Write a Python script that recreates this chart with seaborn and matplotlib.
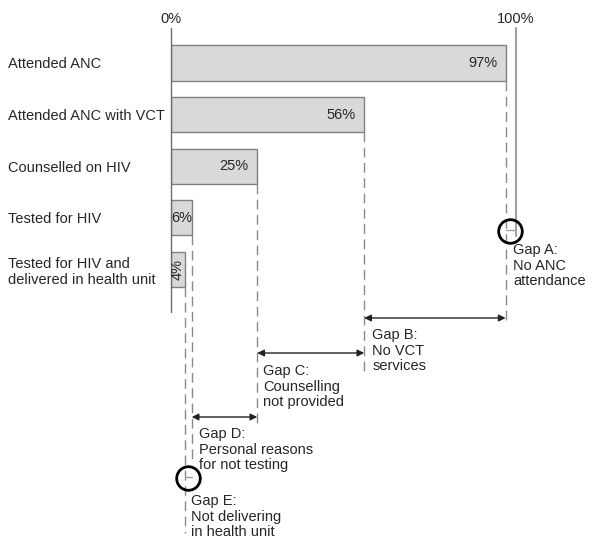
import matplotlib
matplotlib.use("Agg")
import matplotlib.pyplot as plt
import seaborn as sns
import pandas as pd

# data
etapas = [
    "Attended ANC",
    "Attended ANC with VCT",
    "Counselled on HIV",
    "Tested for HIV",
    "Tested for HIV and\ndelivered in health unit",
]
percentuais = [97, 56, 25, 6, 4]
rotulos_valor = ["97%", "56%", "25%", "6%", "4%"]

textos_lacuna = [
    "Gap A:\nNo ANC\nattendance",
    "Gap B:\nNo VCT\nservices",
    "Gap C:\nCounselling\nnot provided",
    "Gap D:\nPersonal reasons\nfor not testing",
    "Gap E:\nNot delivering\nin health unit",
]

df = pd.DataFrame({"etapa": etapas, "pct": percentuais})

sns.set_style("white")
plt.rcParams["font.family"] = ["Liberation Sans", "DejaVu Sans"]
FS = 10.5
plt.rcParams["font.size"] = FS

W, H = 600, 548
fig = plt.figure(figsize=(6, 5.48), dpi=100)
# 0% at x=171 px, 100% at x=516 px; axes top at y=28 px
ax = fig.add_axes([171 / W, 0, 345 / W, (H - 28) / H])

sns.barplot(
    data=df, x="pct", y="etapa", orient="h", ax=ax,
    color="#d9d9d9", edgecolor="#808080", linewidth=1, width=0.68,
    saturation=1,
)

# y in category units: 1 unit = 51.6 px, category 0 centre at y=63 px
def py(px):
    return (px - 63) / 51.6

ax.set_xlim(0, 100)
ax.set_ylim(py(H), py(28))
for s in ax.spines.values():
    s.set_visible(False)

ax.set_xlabel("")
ax.set_ylabel("")
ax.xaxis.tick_top()
ax.set_xticks([0, 100])
ax.set_xticklabels(["0%", "100%"])
ax.tick_params(axis="x", length=0, pad=1.5, labelsize=FS)
ax.tick_params(axis="y", length=0, pad=117, labelsize=FS)
for lab in ax.get_yticklabels():
    lab.set_ha("left")
    lab.set_multialignment("left")
    lab.set_linespacing(1.15)

cinza = "#8a8a8a"
meia = 0.34

# zero line and 100% line
ax.plot([0, 0], [py(28), py(312)], color="#6e6e6e", lw=1, clip_on=False)
ax.plot([100, 100], [py(28), py(236)], color="#a0a0a0", lw=1.5, clip_on=False)

# value labels
for i, (v, r) in enumerate(zip(percentuais, rotulos_valor)):
    if v >= 10:
        ax.text(v - 2.5, i, r, ha="right", va="center")
    elif v >= 5:
        ax.text(v / 2, i, r, ha="center", va="center")
    else:
        ax.text(v / 2, i, r, ha="center", va="center", rotation=90)

# dashed drop lines from bar ends
fins = [py(320), py(372), py(425), py(460), py(533)]
for i, (v, fim) in enumerate(zip(percentuais, fins)):
    ax.plot([v, v], [i + meia, fim], color=cinza, lw=1, ls=(0, (7, 4)))

# arrows between stages
seta_y = [py(318), py(353), py(417)]
for k, y in enumerate(seta_y):
    ax.annotate(
        "", xy=(percentuais[k + 1], y), xytext=(percentuais[k], y),
        arrowprops=dict(arrowstyle="<|-|>", color="#222222", lw=1,
                        shrinkA=0, shrinkB=0, mutation_scale=10),
    )

# circles for gaps A and E
ax.plot([97, 100], [py(230), py(230)], color="#a0a0a0", lw=1)
ax.plot(98.3, py(231), marker="o", ms=17, mfc="none", mec="black", mew=2,
        clip_on=False)
ax.plot([4, 6], [py(477), py(477)], color="#a0a0a0", lw=1)
ax.plot(4.9, py(478), marker="o", ms=17, mfc="none", mec="black", mew=2,
        clip_on=False)

# gap texts
pos_texto = [
    (99.1, py(243)),
    (58.3, py(328)),
    (26.7, py(364)),
    (8.1, py(427)),
    (5.8, py(494)),
]
for (x, y), t in zip(pos_texto, textos_lacuna):
    ax.text(x, y, t, ha="left", va="top", linespacing=1.15, clip_on=False)

plt.savefig("out.png", dpi=100)
plt.close()
